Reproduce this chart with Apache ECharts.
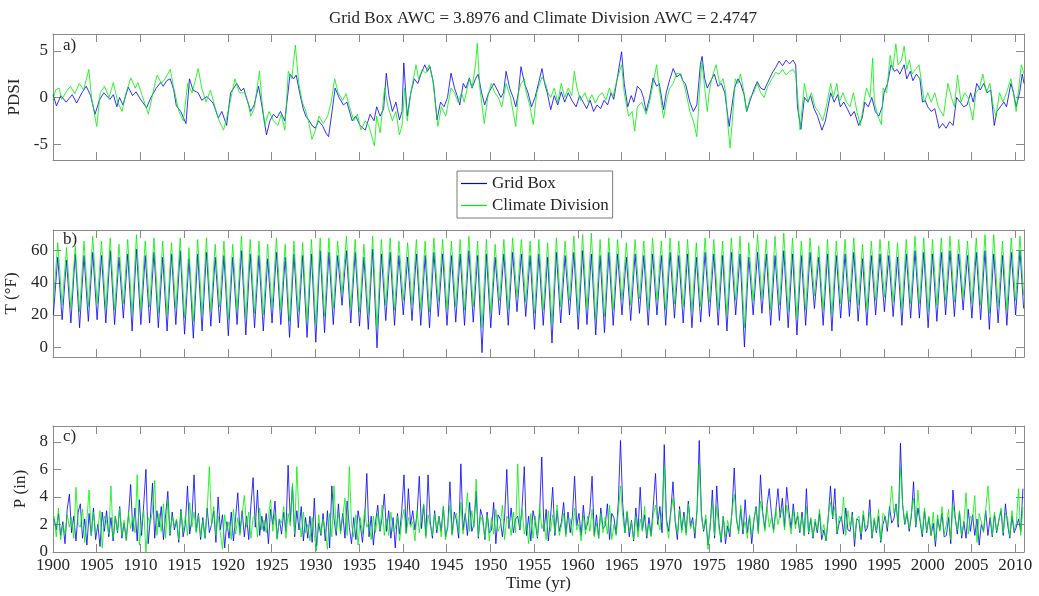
<!DOCTYPE html>
<html><head><meta charset="utf-8">
<script src="https://cdn.jsdelivr.net/npm/echarts@6/dist/echarts.min.js"></script>
<style>html,body{margin:0;padding:0;background:#fff}#c{width:1039px;height:596px}</style>
</head><body><div id="c"></div>
<script>
const titleText = 'Grid Box AWC = 3.8976 and Climate Division AWC = 2.4747';
const seriesNames = ['Grid Box', 'Climate Division'];
const panelLabels = ['a)', 'b)', 'c)'];
const yNames = ['PDSI', 'T (°F)', 'P (in)'];
const xName = 'Time (yr)';
const xTicks = [1900,1905,1910,1915,1920,1925,1930,1935,1940,1945,1950,1955,1960,1965,1970,1975,1980,1985,1990,1995,2000,2005,2010];
const pdsiTicks = [-5, 0, 5];
const tempTicks = [0, 20, 40, 60];
const precTicks = [0, 2, 4, 6, 8];

// PDSI [year, value]
const pdsiGrid = [[1900.0,0.3],[1900.4,-0.9],[1900.9,0.2],[1901.5,-0.5],[1902.2,0.3],[1902.7,-0.6],[1903.3,0.5],[1903.8,1.2],[1904.3,0.2],[1904.8,-1.8],[1905.3,-0.3],[1905.8,0.5],[1906.5,-0.2],[1906.9,0.3],[1907.3,-1.0],[1907.6,0.0],[1908.0,-0.8],[1908.6,1.1],[1909.1,0.2],[1909.5,0.6],[1910.0,-0.2],[1910.7,-1.1],[1911.2,0.0],[1911.8,1.0],[1912.3,1.6],[1912.6,1.2],[1913.0,1.8],[1913.4,2.0],[1913.8,0.8],[1914.1,-0.9],[1914.6,-1.5],[1915.2,-2.8],[1915.6,2.0],[1916.0,0.8],[1916.6,0.5],[1917.0,-0.3],[1917.6,0.1],[1918.3,-0.6],[1918.9,-2.2],[1919.3,-1.5],[1919.85,-3.0],[1920.3,0.5],[1921.0,1.5],[1921.5,0.7],[1921.8,1.0],[1922.2,-0.3],[1922.6,-1.5],[1923.0,-0.8],[1923.5,1.2],[1923.9,-1.0],[1924.4,-4.0],[1924.8,-2.5],[1925.2,-1.8],[1925.6,-2.2],[1926.0,-1.5],[1926.5,-2.5],[1927.1,2.5],[1927.5,2.0],[1927.8,2.4],[1928.2,0.5],[1928.6,-1.2],[1928.9,-2.0],[1929.3,-2.5],[1929.6,-3.0],[1930.0,-3.3],[1930.35,-2.5],[1930.8,-3.0],[1931.2,-3.8],[1931.5,-4.2],[1931.9,-1.5],[1932.25,1.0],[1932.7,0.0],[1933.2,-0.8],[1933.6,-0.5],[1934.2,-2.5],[1934.6,-2.0],[1935.1,-3.0],[1935.7,-3.5],[1936.25,-1.8],[1936.7,-2.5],[1937.0,-1.0],[1937.4,-2.0],[1937.8,-1.2],[1938.1,2.6],[1938.4,0.2],[1938.8,-1.5],[1939.2,-0.5],[1939.6,-2.4],[1939.9,-1.5],[1940.1,3.7],[1940.5,-2.0],[1940.9,0.5],[1941.3,2.0],[1941.7,1.5],[1942.1,2.6],[1942.5,3.5],[1942.8,2.8],[1943.1,3.3],[1943.5,1.5],[1943.9,-2.4],[1944.3,-0.5],[1944.7,-1.0],[1945.1,0.0],[1945.5,2.6],[1945.9,1.0],[1946.2,0.2],[1946.5,-0.8],[1946.9,1.5],[1947.2,1.0],[1947.6,2.1],[1947.9,1.0],[1948.3,2.0],[1948.6,2.5],[1949.0,0.5],[1949.35,-0.8],[1949.8,0.5],[1950.1,1.0],[1950.4,1.5],[1950.8,0.8],[1951.2,0.0],[1951.5,0.5],[1951.8,2.8],[1952.2,1.0],[1952.6,0.0],[1952.9,-1.0],[1953.2,0.5],[1953.5,3.3],[1953.9,1.5],[1954.3,0.5],[1954.7,-1.0],[1955.1,0.0],[1955.5,1.5],[1955.9,3.1],[1956.2,1.5],[1956.5,0.5],[1956.9,-1.3],[1957.3,0.2],[1957.7,-0.8],[1958.1,0.6],[1958.5,-0.5],[1958.9,0.5],[1959.3,-0.3],[1959.8,-1.0],[1960.2,0.2],[1960.6,-0.5],[1961.0,-1.2],[1961.4,-0.3],[1961.8,-1.5],[1962.2,-0.8],[1962.6,-1.2],[1963.0,-0.3],[1963.4,-0.8],[1963.8,0.5],[1964.1,-0.2],[1964.6,2.6],[1965.0,4.9],[1965.3,1.5],[1965.7,-1.0],[1966.1,0.2],[1966.4,-0.5],[1966.8,1.2],[1967.2,0.8],[1967.5,0.0],[1967.8,-1.5],[1968.2,0.0],[1968.6,2.1],[1969.0,1.2],[1969.3,1.5],[1969.8,-1.3],[1970.1,0.5],[1970.5,1.9],[1970.9,3.1],[1971.3,2.2],[1971.7,2.5],[1972.0,1.8],[1972.3,1.5],[1972.8,-0.5],[1973.2,-1.5],[1973.6,-0.8],[1974.0,3.5],[1974.2,4.4],[1974.5,2.0],[1974.8,1.0],[1975.2,1.8],[1975.6,2.5],[1976.0,1.2],[1976.4,1.5],[1976.8,0.5],[1977.0,-1.0],[1977.3,-3.1],[1977.6,-1.0],[1977.9,1.0],[1978.3,2.0],[1978.6,1.5],[1979.0,0.3],[1979.3,-1.5],[1979.7,-0.3],[1980.1,0.8],[1980.5,1.7],[1980.9,1.0],[1981.3,0.8],[1981.7,1.6],[1982.2,2.6],[1982.6,3.2],[1983.0,3.9],[1983.4,3.4],[1983.8,4.0],[1984.2,3.6],[1984.6,4.0],[1984.9,3.5],[1985.1,-1.0],[1985.5,-3.4],[1985.9,0.0],[1986.3,-0.5],[1986.6,0.2],[1987.0,-1.2],[1987.4,-2.0],[1987.9,-3.5],[1988.3,-2.5],[1988.6,-1.0],[1988.9,0.5],[1989.3,-0.5],[1989.7,0.3],[1990.0,-1.0],[1990.4,-0.5],[1990.8,-1.2],[1991.2,-2.0],[1991.6,-1.5],[1992.1,-3.0],[1992.5,-2.2],[1992.8,-0.5],[1993.2,-1.0],[1993.6,0.0],[1994.0,-1.5],[1994.4,-2.0],[1994.8,-1.0],[1995.0,0.5],[1995.4,1.5],[1995.8,3.5],[1996.2,2.8],[1996.5,3.0],[1996.8,2.5],[1997.3,3.5],[1997.6,2.0],[1998.0,2.8],[1998.3,1.8],[1998.7,2.5],[1999.1,2.0],[1999.4,-0.5],[1999.7,-0.3],[2000.0,-1.0],[2000.4,-1.5],[2000.8,-1.2],[2001.3,-3.3],[2001.7,-2.8],[2002.1,-3.3],[2002.5,-2.6],[2002.9,-3.0],[2003.3,0.0],[2003.7,-0.5],[2004.1,-1.0],[2004.5,-0.8],[2004.9,0.5],[2005.2,-0.5],[2005.6,1.5],[2006.0,0.8],[2006.4,1.5],[2006.8,0.5],[2007.2,0.8],[2007.6,-3.0],[2007.9,-1.5],[2008.3,-1.0],[2008.7,-0.5],[2009.0,-1.0],[2009.5,1.5],[2009.8,0.5],[2010.1,-1.0],[2010.5,0.5],[2010.8,2.5],[2011.0,1.5]];
const pdsiClim = [[1900.0,-0.3],[1900.3,0.8],[1900.7,1.0],[1901.0,-0.2],[1901.5,0.6],[1902.0,1.2],[1902.5,0.4],[1903.0,1.5],[1903.5,0.8],[1904.1,3.0],[1904.4,0.0],[1905.0,-3.1],[1905.4,0.5],[1905.9,1.2],[1906.4,0.0],[1906.9,1.6],[1907.4,-0.5],[1907.9,-1.5],[1908.3,0.3],[1908.9,2.1],[1909.4,1.0],[1909.7,1.6],[1910.2,0.2],[1910.9,-1.8],[1911.5,0.8],[1911.9,2.4],[1912.4,1.5],[1912.8,2.0],[1913.4,3.0],[1913.8,1.0],[1914.4,-1.5],[1914.9,-2.5],[1915.4,1.5],[1915.9,0.5],[1916.6,3.1],[1917.0,1.0],[1917.5,-0.5],[1918.0,0.8],[1918.5,-1.0],[1919.0,-2.5],[1919.5,-3.5],[1919.9,-2.0],[1920.8,2.0],[1921.3,0.5],[1921.9,0.5],[1922.3,-0.5],[1922.6,-2.0],[1923.0,-1.2],[1923.6,2.8],[1923.9,-0.5],[1924.2,-3.0],[1924.7,-1.5],[1925.2,-2.5],[1925.7,-3.0],[1926.1,-1.8],[1926.5,-3.5],[1926.9,2.8],[1927.3,2.0],[1927.7,5.6],[1928.1,1.5],[1928.5,-0.5],[1928.9,-1.5],[1929.2,-2.5],[1929.6,-4.5],[1930.0,-3.5],[1930.4,-2.0],[1930.9,-2.8],[1931.4,-2.0],[1931.8,-0.5],[1932.2,2.0],[1932.6,0.5],[1933.1,-0.3],[1933.5,0.4],[1933.9,-1.0],[1934.4,-2.5],[1934.8,-1.8],[1935.2,-3.5],[1935.7,-2.5],[1936.1,-3.0],[1936.75,-5.2],[1937.0,-2.0],[1937.4,-3.8],[1937.9,1.0],[1938.3,-1.0],[1938.8,-2.5],[1939.2,-1.5],[1939.6,-4.0],[1939.9,-3.0],[1940.2,1.0],[1940.5,-2.5],[1940.9,0.5],[1941.5,3.5],[1941.8,2.0],[1942.2,3.0],[1942.6,2.6],[1943.0,3.5],[1943.4,2.0],[1944.0,-3.1],[1944.4,-1.0],[1944.9,-2.0],[1945.5,1.0],[1945.9,0.5],[1946.3,-0.5],[1946.7,0.5],[1947.0,-0.5],[1947.6,2.0],[1947.9,1.0],[1948.3,3.5],[1948.5,5.8],[1948.8,1.0],[1949.3,-2.8],[1949.7,0.0],[1950.1,1.5],[1950.5,0.5],[1950.9,0.0],[1951.3,-1.0],[1951.8,1.5],[1952.3,0.0],[1952.9,-3.1],[1953.2,0.5],[1953.5,1.5],[1953.9,2.0],[1954.1,0.5],[1954.5,-0.8],[1954.9,-2.9],[1955.3,0.5],[1955.9,2.2],[1956.3,1.5],[1956.6,0.5],[1956.9,0.0],[1957.3,1.0],[1957.7,-0.5],[1958.1,1.5],[1958.5,0.0],[1958.9,1.0],[1959.3,0.2],[1959.6,2.8],[1959.9,1.0],[1960.3,-0.3],[1960.8,0.5],[1961.2,-0.5],[1961.6,0.3],[1962.0,-0.6],[1962.4,0.2],[1962.8,0.5],[1963.2,-0.3],[1963.6,1.0],[1964.0,0.0],[1964.5,2.0],[1965.0,3.5],[1965.3,0.5],[1965.8,-2.0],[1966.2,-1.5],[1966.5,-3.6],[1966.8,-1.0],[1967.3,-0.5],[1967.8,-1.8],[1968.2,-0.5],[1968.6,1.5],[1969.0,3.5],[1969.3,1.0],[1969.8,-2.2],[1970.2,0.0],[1970.5,1.0],[1970.9,1.5],[1971.3,2.6],[1971.8,2.5],[1972.3,0.8],[1972.8,-1.5],[1973.2,-2.5],[1973.6,-4.2],[1974.0,2.0],[1974.2,3.8],[1974.5,1.0],[1974.8,-1.5],[1975.0,0.5],[1975.3,2.0],[1975.8,3.5],[1976.2,1.5],[1976.6,2.0],[1976.9,0.5],[1977.2,-3.5],[1977.4,-5.4],[1977.7,-2.0],[1978.0,2.0],[1978.3,1.5],[1978.6,2.5],[1979.0,0.5],[1979.3,-1.5],[1979.7,0.0],[1980.1,0.5],[1980.5,1.5],[1980.9,0.5],[1981.3,0.0],[1981.7,1.2],[1982.2,2.0],[1982.6,2.7],[1983.0,2.5],[1983.4,3.0],[1983.8,2.4],[1984.2,2.8],[1984.6,3.0],[1984.9,2.5],[1985.1,0.5],[1985.4,-3.5],[1985.9,1.5],[1986.3,-0.5],[1986.7,0.5],[1987.1,-1.0],[1987.5,-1.5],[1988.0,-2.5],[1988.4,-1.0],[1988.9,1.5],[1989.2,0.0],[1989.6,1.5],[1989.9,-0.5],[1990.3,0.5],[1990.7,-0.5],[1991.1,-1.0],[1991.5,0.5],[1991.9,-1.5],[1992.3,-3.0],[1992.7,-0.5],[1993.0,1.0],[1993.4,0.0],[1993.7,4.2],[1993.9,-0.5],[1994.3,-2.0],[1994.7,-2.9],[1994.9,1.0],[1995.3,0.5],[1995.7,4.5],[1996.0,3.0],[1996.35,5.75],[1996.6,3.5],[1997.0,4.0],[1997.3,5.5],[1997.6,3.0],[1997.9,4.0],[1998.2,2.5],[1998.6,3.0],[1999.0,3.5],[1999.3,1.5],[1999.6,-0.5],[2000.0,0.5],[2000.4,-0.5],[2000.8,0.5],[2001.2,-1.0],[2001.8,-2.0],[2002.3,1.5],[2002.7,0.0],[2003.05,-1.0],[2003.4,2.4],[2003.8,-0.5],[2004.2,0.5],[2004.6,0.0],[2005.15,-2.4],[2005.5,0.5],[2005.9,1.0],[2006.3,2.5],[2006.7,0.5],[2007.1,1.5],[2007.5,-1.0],[2007.8,-2.0],[2008.2,0.5],[2008.6,-0.5],[2009.0,0.5],[2009.5,2.0],[2009.8,0.5],[2010.1,-1.5],[2010.4,1.0],[2010.7,3.5],[2011.0,2.5]];

// Temperature: January (trough) and July (peak) values per year 1900..2010
const tGridJan = [20,17,15,12,16,17,15,14,18,10, 14,15,12,10,14,8,5.5,10,13,15, 7,14,7.5,12,10,15,14,6,12,6, 3,9,14,26,15,13,11,-0.5,16.5,13.5, 20,16.5,13.5,12,19,13.5,15.5,13.5,15.5,-3.5, 12,20,13.5,22,19,11,13.5,2.5,15,20, 11,14,7.5,9,13.5,20,16.5,21,13.5,20, 13.5,18,15,12,15.5,19,13.5,10,20,0, 20,21,13.5,16.5,12,7.5,13.5,24,13.5,10, 18,19,16,13.5,20,22,19,13.5,18,18, 12,16,20,19,23,18,17,11,15,13.5,20];
const tGridJul = [56,54,58,57,59,57,60,56,58,61, 57,59,56,58,60,55,58,59,56,57, 56,60,58,57,55,59,56,58,57,58, 60,59,57,60,59,56,61,58,59,57, 56,58,57,59,58,57,58,60,57,58, 56,58,59,58,57,58,56,59,57,59, 60,58,57,59,58,56,58,57,58,57, 59,57,58,56,59,58,57,59,58,56, 59,58,57,60,58,57,59,56,58,57, 58,59,55,57,58,57,56,58,60,59, 58,59,60,58,57,59,60,58,57,59,60];
const tClimJan = [28,26,24,22,25,27,24,23,27,20, 23,25,21,20,24,18,16,20,22,25, 17,23,18,21,20,24,23,16,22,16, 14,19,24,33,24,22,20,12,26,23, 29,26,23,22,28,23,25,23,25,12, 21,29,23,31,28,21,23,14,25,29, 21,24,17,19,23,29,26,30,23,29, 23,27,25,22,25,28,23,20,29,12, 29,30,23,26,22,18,23,32,23,20, 27,28,26,23,29,31,28,23,27,27, 22,26,29,28,31,27,26,21,25,23,29];
const tClimJul = [65,62,63,66,69,66,68,64,67,70, 66,68,66,65,68,62,67,68,64,66, 64,69,67,66,64,68,64,66,65,67, 68,68,66,69,67,64,69,67,68,66, 65,67,66,68,67,66,67,69,66,67, 64,67,68,67,66,67,65,68,66,69, 70,71,67,68,67,65,67,66,68,66, 68,66,67,65,68,67,66,68,69,65, 70,67,69,71,68,66,68,63,67,66, 67,68,64,66,67,66,65,67,69,68, 67,68,69,67,66,68,70,70,66,68,69];
const tGridDec2010 = 24;
const tClimDec2010 = 32;

// Precipitation: four readings per year, 1900..2010
const pGrid = [2.4,1.6,2.8,1.2, 2.2,0.6,3.1,4.2, 1.4,2.6,0.8,2.9, 3.5,1.0,2.4,0.5, 2.8,1.2,3.2,0.9, 2.0,0.4,2.9,1.5, 3.0,1.1,2.5,0.8, 2.6,1.4,3.3,1.0, 2.1,0.9,2.6,4.9, 1.5,3.2,0.8,3.8,
 1.2,3.5,6.0,0.6, 2.4,5.0,1.0,3.0, 1.8,3.3,0.9,2.7, 4.4,1.2,2.9,1.6, 2.3,0.7,3.1,1.1, 2.0,4.8,1.3,2.4, 5.6,1.5,2.8,0.9, 2.5,1.0,3.2,1.4, 2.0,3.0,0.7,4.0, 1.6,2.7,0.3,2.2,
 1.0,2.9,0.8,2.5, 4.3,1.4,3.0,1.1, 2.6,0.9,3.4,5.4, 1.8,4.5,1.2,2.6, 1.5,2.8,0.6,3.1, 2.0,3.7,1.0,2.4, 1.3,2.9,1.5,6.3, 2.2,4.8,1.1,3.0, 1.6,3.3,0.8,2.5, 1.0,2.6,0.7,3.9,
 0.4,2.1,1.2,2.8, 0.8,3.0,0.3,4.8, 2.4,1.2,3.5,1.5, 2.8,1.0,3.7,1.8, 0.6,2.5,0.9,3.0, 2.0,0.7,2.4,5.7, 1.1,2.6,0.5,2.2, 3.4,1.5,2.5,4.2, 1.5,3.0,1.0,2.5, 0.3,2.8,1.3,3.1,
 5.6,1.4,4.6,2.0, 3.0,1.6,2.8,5.5, 1.7,3.4,1.2,5.6, 2.2,1.0,3.0,1.4, 2.6,1.5,3.3,1.1, 1.8,5.1,1.3,2.9, 2.3,1.0,6.4,1.6, 2.8,1.2,3.6,1.5, 2.0,4.4,1.0,3.1, 2.5,0.9,2.9,1.4,
 1.6,3.6,0.6,2.7, 2.4,1.1,2.5,6.0, 1.7,3.2,1.4,2.4, 2.6,1.6,3.3,6.2, 1.2,2.6,0.8,3.0, 2.2,1.0,2.8,6.9, 1.5,3.1,0.8,2.5, 4.7,1.2,3.0,1.5, 2.2,3.6,1.3,2.9, 1.4,2.6,5.5,1.9,
 2.8,1.2,3.4,1.6, 2.1,3.0,5.5,1.2, 2.7,1.0,3.2,1.7, 1.9,3.5,0.9,2.8, 2.5,1.3,3.6,8.1, 3.5,1.4,2.9,1.1, 2.3,0.8,3.2,1.5, 4.7,1.6,2.7,1.0, 2.5,1.2,3.4,5.7, 2.0,3.3,1.4,7.8,
 2.4,1.5,3.0,5.1, 2.2,0.9,3.3,1.6, 2.9,1.4,3.7,1.9, 2.5,1.0,3.1,8.1, 2.8,1.5,2.4,0.5, 1.8,4.5,1.0,4.8, 2.1,0.7,2.6,0.6, 1.9,1.1,3.0,6.1, 2.4,1.5,3.1,1.3, 3.8,1.4,2.6,0.6,
 2.3,3.3,1.5,5.6, 2.9,1.7,3.4,4.6, 2.8,1.6,3.0,4.6, 2.5,3.9,1.8,4.7, 3.0,1.7,3.5,2.0, 2.6,1.4,2.9,1.2, 4.6,1.3,2.4,1.0, 2.2,1.4,2.8,0.9, 1.6,0.8,2.5,4.8, 2.4,4.6,1.3,2.1,
 2.6,1.3,3.2,1.6, 1.5,2.9,0.4,2.4, 2.3,0.9,2.7,1.5, 1.8,3.8,1.0,2.3, 1.4,2.6,0.7,2.0, 2.6,1.5,3.3,2.1, 2.4,3.5,1.8,7.9, 3.4,2.0,2.8,1.5, 2.6,5.1,1.8,3.2, 2.2,1.1,3.0,1.4,
 2.5,1.2,2.1,0.4, 2.4,1.6,2.8,1.1, 1.2,2.5,0.6,4.5, 2.6,1.3,2.9,1.0, 2.2,1.0,3.1,1.5, 2.7,1.2,2.4,0.5, 2.0,1.5,3.0,1.2, 2.5,1.1,2.7,1.4, 2.3,3.0,1.2,3.5, 2.0,1.0,2.6,1.4, 1.8,2.4,1.5,4.6];
const pClim = [2.6,1.1,3.2,0.9, 2.0,1.3,2.7,1.8, 2.5,1.0,4.7,2.0, 1.8,3.1,0.7,2.4, 4.5,1.2,2.9,1.4, 1.7,3.0,0.3,2.6, 2.2,1.3,4.8,1.0, 2.6,1.5,3.2,1.2, 2.3,0.8,2.9,1.7, 2.5,1.4,5.6,0.5,
 2.0,3.0,0.0,2.5, 2.1,3.0,5.2,1.2, 2.8,1.5,3.5,1.0, 3.8,1.3,2.6,1.9, 2.4,0.9,3.0,1.5, 2.6,1.2,3.6,1.8, 2.9,1.4,2.7,1.1, 2.3,1.0,3.0,6.2, 1.9,3.3,1.2,2.6, 1.4,0.2,2.7,1.6,
 2.2,0.9,3.1,1.3, 2.5,1.2,2.8,4.1, 1.8,2.9,1.0,2.5, 2.7,1.1,3.2,1.6, 2.3,1.4,2.6,3.8, 1.5,2.8,0.9,2.4, 2.1,3.3,1.0,2.8, 1.9,5.0,1.3,6.2, 2.5,1.1,2.9,1.4, 2.0,0.8,2.5,1.2,
 0.1,2.7,1.3,2.4, 1.6,0.2,2.8,1.1, 4.8,1.5,2.9,1.3, 2.6,3.9,1.2,6.2, 2.0,1.1,2.7,0.5, 2.5,1.3,3.1,1.8, 2.2,0.9,2.6,1.4, 2.8,1.6,3.4,1.2, 2.4,1.2,2.9,1.5, 1.7,2.6,0.8,2.3,
 3.1,1.3,2.5,1.8, 2.2,0.8,3.0,1.4, 2.5,3.5,1.0,2.7, 1.9,1.2,2.8,1.6, 2.6,1.1,3.3,0.9, 2.0,3.4,1.2,2.5, 2.8,1.4,3.6,1.3, 2.4,4.3,1.5,3.0, 1.8,5.3,1.1,2.6, 2.2,1.0,2.7,0.8,
 2.5,1.3,3.1,1.5, 1.9,3.4,0.9,2.6, 2.3,1.2,2.9,1.4, 6.4,1.7,3.1,1.3, 2.1,0.6,2.8,1.0, 2.6,1.1,3.3,1.7, 2.2,0.9,3.0,1.5, 2.7,1.4,3.4,1.2, 1.9,2.8,1.1,2.5, 2.4,1.2,3.2,1.6,
 2.0,0.8,2.7,1.3, 2.6,1.5,3.1,1.1, 2.1,1.0,2.8,1.4, 2.5,1.3,3.4,0.9, 2.0,1.2,2.9,4.8, 2.6,1.4,3.0,1.5, 2.2,0.9,2.6,1.1, 2.4,1.5,3.3,1.2, 2.0,1.1,2.7,3.4, 2.3,1.6,3.0,6.2,
 2.1,1.0,2.8,3.9, 2.4,1.3,3.1,1.4, 2.6,1.2,3.5,1.7, 2.2,1.4,2.9,6.4, 2.5,1.6,2.7,0.2, 2.0,3.6,1.2,3.3, 1.7,0.9,2.6,1.1, 2.3,1.4,2.9,4.2, 2.6,1.3,3.4,1.6, 2.2,1.0,2.7,1.2,
 2.4,3.2,1.3,3.7, 2.8,1.5,3.3,1.8, 2.5,1.4,3.1,2.0, 2.7,3.2,1.6,3.4, 2.4,1.3,3.0,1.7, 2.9,1.5,2.6,1.2, 3.3,1.4,2.5,1.1, 2.4,1.6,3.1,1.3, 2.0,0.8,2.7,3.6, 2.5,3.3,1.4,2.6,
 2.2,4.0,1.2,3.0, 1.8,2.7,0.9,2.4, 2.6,1.3,3.0,1.7, 2.0,2.9,1.1,2.5, 1.5,3.1,0.8,2.8, 2.6,1.8,2.9,4.8, 2.8,3.4,2.0,6.2, 3.5,2.1,3.0,1.7, 2.8,3.9,1.9,4.5, 2.4,1.3,3.2,1.5,
 2.6,1.2,2.9,0.8, 2.7,1.5,3.3,1.3, 2.0,3.1,0.9,3.4, 2.4,1.6,3.0,1.2, 2.1,4.3,1.3,2.6, 2.4,4.1,0.7,2.8, 2.2,1.4,3.1,4.8, 2.6,1.2,2.9,1.5, 2.3,3.2,1.4,2.8, 2.5,1.1,3.0,1.6, 2.1,4.6,1.2,3.3];

// ---- build series data ----
function seasonal(jan, jul, lastDec) {
  const out = [];
  for (let i = 0; i < jan.length; i++) {
    const y = xTicks[0] + i;
    out.push([y + 1 / 24, jan[i]]);
    out.push([y + 13 / 24, jul[i]]);
  }
  out.push([xTicks[0] + jan.length - 1 / 24, lastDec]);
  return out;
}
function quarterly(vals) {
  return vals.map((v, i) => [xTicks[0] + (i + 0.5) / 4, v]);
}

const FONT = '"Liberation Serif", "Times New Roman", Times, serif';
const TXT = '#262626';
const AX = '#8a8a8a';
const BLUE = '#0000ff';
const GREEN = '#00f000';

const grids = [
  { left: 53, top: 34, width: 971, height: 126, outerBoundsMode: 'none', containLabel: false },
  { left: 53, top: 230, width: 971, height: 127, outerBoundsMode: 'none', containLabel: false },
  { left: 53, top: 426, width: 971, height: 126, outerBoundsMode: 'none', containLabel: false }
];
const yRanges = [[-6.7, 6.8], [-6.2, 72.9], [0, 9.15]];
const yTicksList = [pdsiTicks, tempTicks, precTicks];
const nameGaps = [20, 24, 18];

const xAxes = [], yAxes = [];
grids.forEach((g, gi) => {
  ['bottom', 'top'].forEach(pos => {
    const labelled = gi === 2 && pos === 'bottom';
    xAxes.push({
      type: 'value', gridIndex: gi, position: pos, min: 1900, max: 2011,
      axisLine: { show: true, onZero: false, lineStyle: { color: AX, width: 1 } },
      axisTick: { show: true, inside: true, length: 8, customValues: xTicks, lineStyle: { color: AX } },
      axisLabel: { show: labelled, customValues: xTicks, formatter: v => String(v), margin: 5, fontFamily: FONT, fontSize: 17, color: TXT },
      splitLine: { show: false },
      name: labelled ? xName : '', nameLocation: 'middle', nameGap: 22,
      nameTextStyle: { fontFamily: FONT, fontSize: 17, color: TXT }
    });
  });
  ['left', 'right'].forEach(pos => {
    const labelled = pos === 'left';
    yAxes.push({
      type: 'value', gridIndex: gi, position: pos, min: yRanges[gi][0], max: yRanges[gi][1],
      axisLine: { show: true, onZero: false, lineStyle: { color: AX, width: 1 } },
      axisTick: { show: true, inside: true, length: 8, customValues: yTicksList[gi], lineStyle: { color: AX } },
      axisLabel: { show: labelled, customValues: yTicksList[gi], formatter: v => String(v), margin: 5, fontFamily: FONT, fontSize: 17, color: TXT },
      splitLine: { show: false },
      name: labelled ? yNames[gi] : '', nameLocation: 'middle', nameGap: nameGaps[gi],
      nameTextStyle: { fontFamily: FONT, fontSize: 17, color: TXT }
    });
  });
});

function line(name, color, data, gi, z) {
  return {
    name, type: 'line', data, xAxisIndex: gi * 2, yAxisIndex: gi * 2,
    symbol: 'none', showSymbol: false, smooth: false, z,
    lineStyle: { color, width: 0.8 }, itemStyle: { color }, silent: true
  };
}

const series = [
  line(seriesNames[0], BLUE, pdsiGrid, 0, 2),
  line(seriesNames[1], GREEN, pdsiClim, 0, 3),
  line(seriesNames[0], BLUE, seasonal(tGridJan, tGridJul, tGridDec2010), 1, 2),
  line(seriesNames[1], GREEN, seasonal(tClimJan, tClimJul, tClimDec2010), 1, 3),
  line(seriesNames[0], BLUE, quarterly(pGrid), 2, 2),
  line(seriesNames[1], GREEN, quarterly(pClim), 2, 3)
];

const labelYs = [47, 241, 438];
const graphics = panelLabels.map((t, i) => ({
  type: 'text', left: 63, top: labelYs[i] - 10,
  style: { text: t, fontFamily: FONT, fontSize: 17, fill: TXT }
}));

const chart = echarts.init(document.getElementById('c'), null, { renderer: 'canvas' });
chart.setOption({
  animation: false,
  backgroundColor: '#fff',
  title: {
    text: titleText, left: 538, top: 5, textAlign: 'center',
    textStyle: { fontFamily: FONT, fontSize: 17, fontWeight: 'normal', color: TXT }
  },
  legend: {
    data: seriesNames.map(n => ({ name: n, icon: 'rect' })), orient: 'vertical', left: 457, top: 171,
    padding: [4, 4, 4, 4], itemWidth: 26, itemHeight: 1.2, itemGap: 5,
    borderColor: '#7a7a7a', borderWidth: 1, backgroundColor: '#fff',
    textStyle: { fontFamily: FONT, fontSize: 17, color: TXT, lineHeight: 17 }
  },
  grid: grids,
  xAxis: xAxes,
  yAxis: yAxes,
  series,
  graphic: graphics
});
</script>
</body></html>
